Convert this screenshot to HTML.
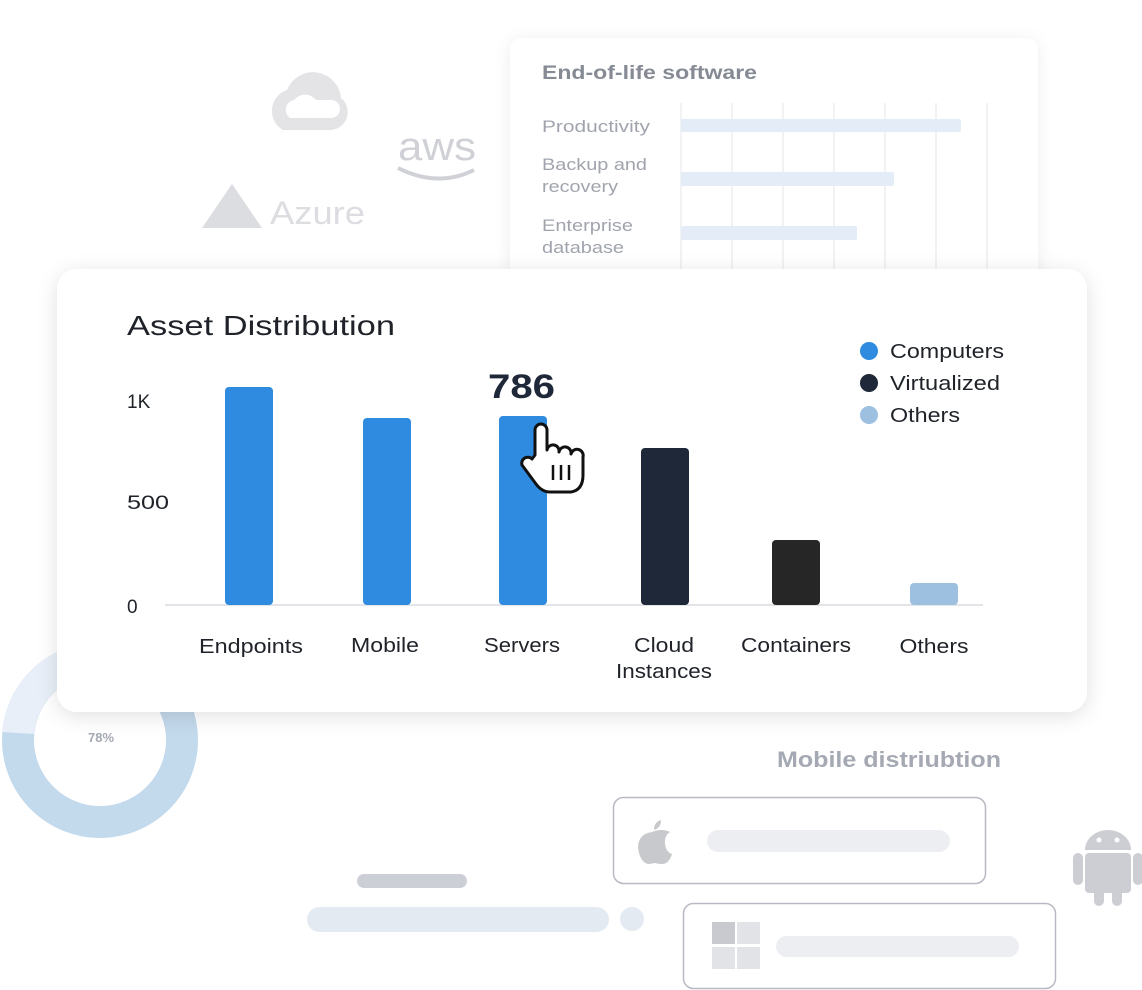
<!DOCTYPE html>
<html><head><meta charset="utf-8"><style>
body{margin:0;width:1142px;height:990px;background:#fff;position:relative;overflow:hidden;font-family:"Liberation Sans",sans-serif}
.a{position:absolute}
</style></head><body>
<svg class="a" style="left:0;top:0" width="1142" height="990">
<defs>
<filter id="sh" x="-10%" y="-10%" width="120%" height="130%"><feDropShadow dx="0" dy="4" stdDeviation="10" flood-color="#000" flood-opacity="0.12"/></filter>
<filter id="sh2" x="-10%" y="-10%" width="120%" height="130%"><feDropShadow dx="0" dy="2" stdDeviation="8" flood-color="#000" flood-opacity="0.07"/></filter>
</defs>
<g lengthAdjust="spacingAndGlyphs">
<path d="M283 130 a22 22 0 0 1 4-40 a28 28 0 0 1 54 8 a18 18 0 0 1 -10 32 z" fill="#e4e4e7"/>
<path d="M290 118 a10 10 0 0 1 4-18 a14 14 0 0 1 22 0 h15 a8 8 0 0 1 0 18 z" fill="#fff"/>
<text x="398" y="160" font-size="40" fill="#cfd1d6" textLength="78" lengthAdjust="spacingAndGlyphs">aws</text>
<path d="M398 168 q40 20 76 2" stroke="#cfd1d6" stroke-width="4" fill="none"/>
<path d="M202 228 L232 184 L262 228 Z" fill="#dcdde0"/>
<text x="270" y="224" font-size="32" fill="#dcdde0" textLength="95" lengthAdjust="spacingAndGlyphs">Azure</text>
<circle cx="100" cy="740" r="82" fill="none" stroke="#c3d9ec" stroke-width="32"/>
<path d="M2 732 A98 98 0 0 1 100 642 L100 674 A66 66 0 0 0 34 734 Z" fill="#e8eff8"/>
<text x="88" y="742" font-size="13" fill="#a5a9b3" font-weight="bold">78%</text>
<rect x="510" y="38" width="528" height="260" rx="12" fill="#fff" filter="url(#sh2)"/>
<text x="542" y="79" font-size="19" font-weight="bold" fill="#858a94" textLength="215" lengthAdjust="spacingAndGlyphs">End-of-life software</text>
<g stroke="#eceef1" stroke-width="1.5">
<line x1="681" y1="103" x2="681" y2="270"/><line x1="732" y1="103" x2="732" y2="270"/><line x1="783" y1="103" x2="783" y2="270"/><line x1="834" y1="103" x2="834" y2="270"/><line x1="885" y1="103" x2="885" y2="270"/><line x1="936" y1="103" x2="936" y2="270"/><line x1="987" y1="103" x2="987" y2="270"/></g>
<g fill="#e4edf7"><rect x="681" y="119" width="280" height="13" rx="2"/><rect x="681" y="172" width="213" height="14" rx="2"/><rect x="681" y="226" width="176" height="14" rx="2"/></g>
<g font-size="17" fill="#a0a4ad"><text x="542" y="132" textLength="108" lengthAdjust="spacingAndGlyphs">Productivity</text><text x="542" y="170" textLength="105" lengthAdjust="spacingAndGlyphs">Backup and</text><text x="542" y="192" textLength="76" lengthAdjust="spacingAndGlyphs">recovery</text><text x="542" y="231" textLength="91" lengthAdjust="spacingAndGlyphs">Enterprise</text><text x="542" y="253" textLength="82" lengthAdjust="spacingAndGlyphs">database</text></g>
<rect x="57" y="269" width="1030" height="443" rx="20" fill="#fff" filter="url(#sh)"/>
<text x="127" y="335" font-size="28" fill="#1f2329" textLength="268" lengthAdjust="spacingAndGlyphs">Asset Distribution</text>
<g font-size="19" fill="#1f2329"><text x="127" y="408">1K</text><text x="127" y="509" textLength="42" lengthAdjust="spacingAndGlyphs">500</text><text x="127" y="613">0</text></g>
<line x1="165" y1="605" x2="983" y2="605" stroke="#e2e4e8" stroke-width="2"/>
<g fill="#2e8be0"><rect x="225" y="387" width="48" height="218" rx="4"/><rect x="363" y="418" width="48" height="187" rx="4"/><rect x="499" y="416" width="48" height="189" rx="4"/></g>
<rect x="641" y="448" width="48" height="157" rx="4" fill="#1f2839"/>
<rect x="772" y="540" width="48" height="65" rx="4" fill="#262626"/>
<rect x="910" y="583" width="48" height="22" rx="4" fill="#9dc0e0"/>
<text x="488" y="398" font-size="34" font-weight="bold" fill="#1f2839" textLength="67" lengthAdjust="spacingAndGlyphs">786</text>
<g font-size="20" fill="#1f2329" text-anchor="middle"><text x="251" y="653" textLength="104" lengthAdjust="spacingAndGlyphs">Endpoints</text><text x="385" y="652" textLength="68" lengthAdjust="spacingAndGlyphs">Mobile</text><text x="522" y="652" textLength="76" lengthAdjust="spacingAndGlyphs">Servers</text><text x="664" y="652" textLength="60" lengthAdjust="spacingAndGlyphs">Cloud</text><text x="664" y="678" textLength="96" lengthAdjust="spacingAndGlyphs">Instances</text><text x="796" y="652" textLength="110" lengthAdjust="spacingAndGlyphs">Containers</text><text x="934" y="653" textLength="69" lengthAdjust="spacingAndGlyphs">Others</text></g>
<circle cx="869" cy="351" r="9" fill="#2e8be0"/><circle cx="869" cy="383" r="9" fill="#1f2839"/><circle cx="869" cy="415" r="9" fill="#9dc0e0"/>
<g font-size="20" fill="#1f2329"><text x="890" y="358" textLength="114" lengthAdjust="spacingAndGlyphs">Computers</text><text x="890" y="390" textLength="110" lengthAdjust="spacingAndGlyphs">Virtualized</text><text x="890" y="422" textLength="70" lengthAdjust="spacingAndGlyphs">Others</text></g>
<path d="M535 455 L535 430 a6 6 0 0 1 12 0 L547 450 a6 6 0 0 1 12 2 a6 6 0 0 1 12 2 a6 6 0 0 1 12 3 L583 475 q0 15 -12 17 L550 492 q-8 0 -14 -8 L522 465 a6 6 0 0 1 10 -6 z" fill="#fff" stroke="#111" stroke-width="3" stroke-linejoin="round"/>
<g stroke="#111" stroke-width="2.5"><line x1="553" y1="465" x2="553" y2="480"/><line x1="561" y1="465" x2="561" y2="480"/><line x1="569" y1="465" x2="569" y2="480"/></g>
<text x="777" y="767" font-size="22" font-weight="bold" fill="#a5a9b3" textLength="224" lengthAdjust="spacingAndGlyphs">Mobile distriubtion</text>
<rect x="613.5" y="797.5" width="372" height="86" rx="10" fill="#fff" stroke="#b8b9c2" stroke-width="1.5"/>
<rect x="707" y="830" width="243" height="22" rx="11" fill="#eceef1"/>
<path d="M652 832 q10-4 18 0 q-6 4 -5 12 q1 8 7 10 q-3 10 -10 10 q-4 0 -7-1 q-4 1 -7 1 q-8-2 -10-16 q0-14 14-16z M661 820 q0 8 -7 10 q0-8 7-10z" fill="#c8c9cd"/>
<rect x="683.5" y="903.5" width="372" height="85" rx="10" fill="#fff" stroke="#b8b9c2" stroke-width="1.5"/>
<rect x="776" y="936" width="243" height="21" rx="10.5" fill="#eceef1"/>
<g fill="#c8cad0"><rect x="712" y="922" width="23" height="22"/><rect x="737" y="922" width="23" height="22" fill="#e2e3e6"/><rect x="712" y="947" width="23" height="22" fill="#e2e3e6"/><rect x="737" y="947" width="23" height="22" fill="#e2e3e6"/></g>
<rect x="357" y="874" width="110" height="14" rx="7" fill="#ccd0d6"/>
<rect x="307" y="907" width="302" height="25" rx="12.5" fill="#e4eaf2"/>
<circle cx="632" cy="919" r="12" fill="#e4eaf2"/>
<g fill="#ccced3"><path d="M1085 850 a23 20 0 0 1 46 0 z"/><rect x="1085" y="853" width="46" height="40" rx="4"/><rect x="1073" y="853" width="10" height="32" rx="5"/><rect x="1133" y="853" width="10" height="32" rx="5"/><rect x="1094" y="885" width="10" height="21" rx="5"/><rect x="1112" y="885" width="10" height="21" rx="5"/></g>
<circle cx="1099" cy="840" r="2.5" fill="#fff"/><circle cx="1117" cy="840" r="2.5" fill="#fff"/>
</g>
</svg>
</body></html>
